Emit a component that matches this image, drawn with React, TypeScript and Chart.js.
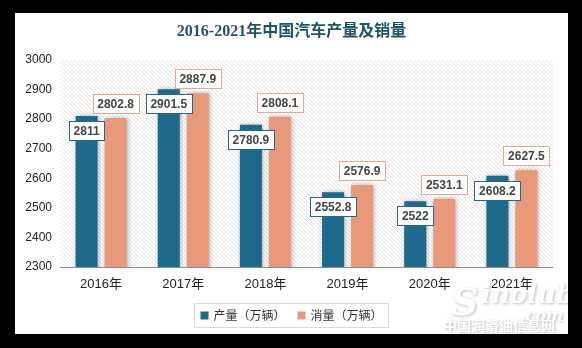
import React, { useEffect, useRef } from "react";
import { Chart, registerables } from "chart.js";

Chart.register(...registerables);

const categories = ["2016年", "2017年", "2018年", "2019年", "2020年", "2021年"];
const production = [2811, 2901.5, 2780.9, 2552.8, 2522, 2608.2];
const sales = [2802.8, 2887.9, 2808.1, 2576.9, 2531.1, 2627.5];
const seriesNames = ["产量（万辆）", "消量（万辆）"];
const yMin = 2300;
const yMax = 3000;
const yStep = 100;
const titleText = "2016-2021年中国汽车产量及销量";

const BLUE = "#1d6a8a";
const ORANGE = "#e8997a";
const ORANGE_BORDER = "#e6a891";
const W = 553;
const H = 321;

function makePattern(ctx: CanvasRenderingContext2D) {
  const p = 4;
  const c = document.createElement("canvas");
  c.width = p;
  c.height = p;
  const g = c.getContext("2d")!;
  g.fillStyle = "#ffffff";
  g.fillRect(0, 0, p, p);
  g.strokeStyle = "#dedede";
  g.lineWidth = 0.9;
  g.beginPath();
  g.moveTo(-1, -1);
  g.lineTo(p + 1, p + 1);
  g.moveTo(-1, p - 1);
  g.lineTo(1, p + 1);
  g.moveTo(p - 1, -1);
  g.lineTo(p + 1, 1);
  g.stroke();
  return ctx.createPattern(c, "repeat");
}

const customPlugin = {
  id: "custom",
  beforeDraw(chart: any) {
    const { ctx, chartArea } = chart;
    ctx.save();
    ctx.fillStyle = "#ffffff";
    ctx.fillRect(0, 0, chart.width, chart.height);
    const pat = makePattern(ctx);
    if (pat) {
      ctx.fillStyle = pat;
      ctx.fillRect(chartArea.left, chartArea.top, chartArea.right - chartArea.left, chartArea.bottom - chartArea.top);
    }
    ctx.restore();
  },
  beforeDatasetsDraw(chart: any) {
    const ctx = chart.ctx;
    ctx.save();
    ctx.shadowColor = "rgba(0,0,0,0.35)";
    ctx.shadowBlur = 5;
    ctx.shadowOffsetX = 1;
    ctx.shadowOffsetY = 0;
  },
  afterDatasetsDraw(chart: any) {
    const ctx = chart.ctx;
    ctx.restore();
    const { chartArea } = chart;
    ctx.save();
    ctx.strokeStyle = "#8c8c8c";
    ctx.lineWidth = 1;
    ctx.beginPath();
    ctx.moveTo(chartArea.left, Math.round(chartArea.bottom) + 0.5);
    ctx.lineTo(chartArea.right, Math.round(chartArea.bottom) + 0.5);
    ctx.stroke();
    ctx.restore();

    ctx.save();
    ctx.font = "bold 12px 'Liberation Sans', 'Noto Sans', sans-serif";
    ctx.textAlign = "center";
    ctx.textBaseline = "middle";
    chart.data.datasets.forEach((ds: any, di: number) => {
      const meta = chart.getDatasetMeta(di);
      meta.data.forEach((bar: any, i: number) => {
        const v = ds.data[i];
        const text = String(v);
        const tw = ctx.measureText(text).width;
        const bw = Math.round(tw + 9);
        const bh = 19;
        const x = Math.round(bar.x - bw / 2) + 0.5;
        let y: number;
        if (di === 0) {
          y = Math.round(bar.y + 5) + 0.5;
        } else {
          y = Math.round(bar.y - 5 - bh) + 0.5;
        }
        ctx.fillStyle = "#ffffff";
        ctx.fillRect(x, y, bw, bh);
        ctx.strokeStyle = di === 0 ? BLUE : ORANGE_BORDER;
        ctx.lineWidth = 1;
        ctx.strokeRect(x, y, bw, bh);
        ctx.fillStyle = "#454545";
        ctx.fillText(text, bar.x, y + bh / 2 + 0.5);
      });
    });
    ctx.restore();
  },
  afterDraw(chart: any) {
    const ctx = chart.ctx;
    ctx.save();
    ctx.font = "bold 16px 'Liberation Serif', 'Noto Sans CJK SC', serif";
    ctx.fillStyle = "#1f5468";
    ctx.textAlign = "center";
    ctx.textBaseline = "middle";
    ctx.fillText(titleText, W / 2, 19);

    ctx.font = "12px 'Noto Sans CJK SC', sans-serif";
    const sq = 8;
    const gapSq = 5;
    const gapItems = 12;
    const padX = 6;
    const w0 = ctx.measureText(seriesNames[0]).width;
    const w1 = ctx.measureText(seriesNames[1]).width;
    const total = padX * 2 + sq + gapSq + w0 + gapItems + sq + gapSq + w1;
    const lx = Math.round(W / 2 - total / 2) + 0.5;
    const ly = 290.5;
    const lh = 24;
    ctx.strokeStyle = "#d9d9d9";
    ctx.lineWidth = 1;
    ctx.strokeRect(lx, ly, total, lh);
    const cy = ly + lh / 2;
    let cx = lx + padX;
    ctx.textAlign = "left";
    ctx.fillStyle = BLUE;
    ctx.fillRect(cx, cy - sq / 2, sq, sq);
    cx += sq + gapSq;
    ctx.fillStyle = "#333333";
    ctx.fillText(seriesNames[0], cx, cy);
    cx += w0 + gapItems;
    ctx.fillStyle = ORANGE;
    ctx.fillRect(cx, cy - sq / 2, sq, sq);
    cx += sq + gapSq;
    ctx.fillStyle = "#333333";
    ctx.fillText(seriesNames[1], cx, cy);

    // watermark
    ctx.textAlign = "left";
    ctx.textBaseline = "alphabetic";
    ctx.shadowColor = "rgba(0,0,0,0.28)";
    ctx.shadowBlur = 3;
    ctx.shadowOffsetX = 1;
    ctx.shadowOffsetY = 1;
    ctx.fillStyle = "#ffffff";
    ctx.font = "italic bold 38px 'DejaVu Serif', serif";
    ctx.fillText("S", 436, 302);
    ctx.font = "italic bold 26px 'DejaVu Serif', serif";
    ctx.fillText("inolub", 466, 290);
    ctx.font = "italic bold 16px 'DejaVu Serif', serif";
    ctx.fillText(".com", 505, 308);
    ctx.font = "bold 14px 'Noto Sans CJK SC', sans-serif";
    ctx.fillText("中国润滑油信息网", 428, 318);
    ctx.restore();
  },
};

export default function App() {
  const ref = useRef<HTMLCanvasElement | null>(null);
  useEffect(() => {
    if (!ref.current) return;
    const chart = new Chart(ref.current, {
      type: "bar",
      data: {
        labels: categories,
        datasets: [
          {
            label: seriesNames[0],
            data: production,
            backgroundColor: BLUE,
            barPercentage: 0.76,
            categoryPercentage: 0.706,
          },
          {
            label: seriesNames[1],
            data: sales,
            backgroundColor: ORANGE,
            barPercentage: 0.76,
            categoryPercentage: 0.706,
          },
        ],
      },
      options: {
        responsive: false,
        animation: false,
        devicePixelRatio: 1,
        layout: { padding: { left: 0, right: 15, top: 47, bottom: 37 } },
        plugins: {
          legend: { display: false },
          title: { display: false },
          tooltip: { enabled: false },
        },
        scales: {
          x: {
            grid: { display: false, drawTicks: false },
            border: { display: false },
            ticks: {
              color: "#222222",
              padding: 10,
              font: { size: 13, family: "'Liberation Sans', 'Noto Sans CJK SC', sans-serif" },
            },
            afterFit: (s: any) => {
              s.height = 30;
            },
          },
          y: {
            min: yMin,
            max: yMax,
            grid: { display: false, drawTicks: false },
            border: { display: false },
            ticks: {
              stepSize: yStep,
              color: "#222222",
              padding: 8,
              font: { size: 12, family: "'Liberation Sans', sans-serif" },
              callback: (v: any) => String(v),
            },
            afterFit: (s: any) => {
              s.width = 45;
            },
          },
        },
      },
      plugins: [customPlugin],
    });
    return () => chart.destroy();
  }, []);

  return (
    <>
      <style>{"body{margin:0;}"}</style>
      <div style={{ position: "relative", width: 582, height: 348, background: "#000" }}>
        <div style={{ position: "absolute", left: 15, top: 13, width: W, height: H, background: "#fff" }}>
          <canvas ref={ref} width={W} height={H} style={{ display: "block", width: W, height: H }} />
        </div>
      </div>
    </>
  );
}
